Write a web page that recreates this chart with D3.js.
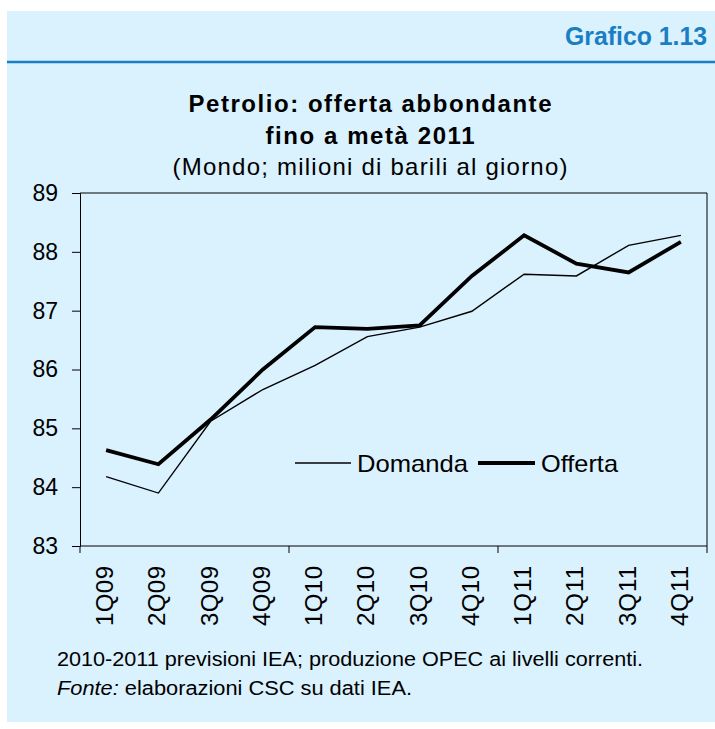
<!DOCTYPE html>
<html>
<head>
<meta charset="utf-8">
<script src="https://cdn.jsdelivr.net/npm/d3@7"></script>
<title>Grafico 1.13</title>
<style>
body {
	margin: 0;
	background: white;
	font-family: "Liberation Sans", Arial, sans-serif;
}
</style>
</head>
<body>
<div id="chart"></div>
<script>

// -- data
var quarters = ["1Q09", "2Q09", "3Q09", "4Q09", "1Q10", "2Q10", "3Q10", "4Q10", "1Q11", "2Q11", "3Q11", "4Q11"];
var domanda = [84.18, 83.90, 85.12, 85.66, 86.07, 86.56, 86.72, 86.99, 87.62, 87.59, 88.11, 88.28];
var offerta = [84.63, 84.39, 85.15, 86.00, 86.72, 86.69, 86.75, 87.59, 88.28, 87.80, 87.65, 88.17];
var yTicks = [83, 84, 85, 86, 87, 88, 89];

var series = [
	{name: "Domanda", values: domanda, width: 1.4},
	{name: "Offerta", values: offerta, width: 3.8},
];

// -- setting
const W = 715, H = 729;
const panelBg = "#daf1fe";
const blue = "#1a7ec2";

var svg = d3.select("#chart")
	.append("svg")
		.attr("width", W)
		.attr("height", H);

// panel
svg.append("rect")
	.attr("x", 7).attr("y", 11)
	.attr("width", W - 7).attr("height", 711)
	.attr("fill", panelBg);

svg.append("text")
	.attr("x", 707).attr("y", 45)
	.attr("text-anchor", "end")
	.style("font-weight", "bold")
	.style("font-size", "25px")
	.attr("textLength", 142)
	.attr("lengthAdjust", "spacingAndGlyphs")
	.attr("fill", blue)
	.text("Grafico 1.13");

svg.append("line")
	.attr("x1", 7).attr("x2", W)
	.attr("y1", 62).attr("y2", 62)
	.attr("stroke", blue)
	.attr("stroke-width", 2.5);

// titles
var titles = [
	{t: "Petrolio: offerta abbondante", y: 112, bold: true, len: 363},
	{t: "fino a metà 2011", y: 144, bold: true, len: 209},
	{t: "(Mondo; milioni di barili al giorno)", y: 175, bold: false, len: 395},
];
svg.selectAll(".title")
	.data(titles)
	.enter()
	.append("text")
	.attr("class", "title")
	.attr("x", 370)
	.attr("y", d => d.y)
	.attr("text-anchor", "middle")
	.attr("textLength", d => d.len)
	.attr("lengthAdjust", "spacing")
	.style("font-size", "24px")
	.style("font-weight", d => d.bold ? "bold" : "normal")
	.text(d => d.t);

// -- plot
var margin = {left: 80, top: 193, right: 707, bottom: 546};

var x = d3.scaleBand()
	.domain(quarters)
	.range([margin.left, margin.right]);

var y = d3.scaleLinear()
	.domain([83, 89])
	.range([margin.bottom, margin.top]);

// frame
svg.append("line")
	.attr("x1", margin.left).attr("x2", margin.right)
	.attr("y1", margin.top).attr("y2", margin.top)
	.attr("stroke", "black");
svg.append("line")
	.attr("x1", margin.right).attr("x2", margin.right)
	.attr("y1", margin.top).attr("y2", margin.bottom)
	.attr("stroke", "black");

// y axis
var yAxis = svg.append("g")
	.attr("transform", "translate(" + margin.left + ",0)")
	.call(d3.axisLeft(y).tickValues(yTicks).tickSize(8).tickPadding(14).tickFormat(d3.format("d")));
yAxis.select(".domain").attr("stroke", "black");
yAxis.selectAll("text")
	.style("font-family", "Liberation Sans, Arial, sans-serif")
	.style("font-size", "23px")
	.attr("fill", "black");

// x axis: ticks at year boundaries
var bounds = [0, 4, 8, 12].map(i => margin.left + i * x.bandwidth());
svg.append("line")
	.attr("x1", margin.left).attr("x2", margin.right)
	.attr("y1", margin.bottom).attr("y2", margin.bottom)
	.attr("stroke", "black");
svg.selectAll(".xtick")
	.data(bounds)
	.enter()
	.append("line")
	.attr("class", "xtick")
	.attr("x1", d => d).attr("x2", d => d)
	.attr("y1", margin.bottom).attr("y2", margin.bottom + 7)
	.attr("stroke", "black");

svg.selectAll(".xlabel")
	.data(quarters)
	.enter()
	.append("text")
	.attr("class", "xlabel")
	.attr("transform", d => "translate(" + (x(d) + x.bandwidth() / 2 + 7) + "," + (margin.bottom + 20) + ") rotate(-90)")
	.attr("text-anchor", "end")
	.attr("textLength", 60)
	.attr("lengthAdjust", "spacing")
	.style("font-size", "24px")
	.text(d => d);

// lines
var line = d3.line()
	.x((d, i) => x(quarters[i]) + x.bandwidth() / 2)
	.y(d => y(d));

svg.selectAll(".series")
	.data(series)
	.enter()
	.append("path")
	.attr("class", "series")
	.attr("fill", "none")
	.attr("stroke", "black")
	.attr("stroke-width", d => d.width)
	.attr("stroke-linejoin", "miter")
	.attr("d", d => line(d.values));

// -- legend
var legend = [
	{name: "Domanda", x1: 295, x2: 351, tx: 357, len: 111, width: 1.4},
	{name: "Offerta", x1: 478, x2: 535, tx: 541, len: 77, width: 3.8},
];
var lg = svg.selectAll(".legend")
	.data(legend)
	.enter()
	.append("g")
	.attr("class", "legend");
lg.append("line")
	.attr("x1", d => d.x1).attr("x2", d => d.x2)
	.attr("y1", 463).attr("y2", 463)
	.attr("stroke", "black")
	.attr("stroke-width", d => d.width);
lg.append("text")
	.attr("x", d => d.tx)
	.attr("y", 472)
	.style("font-size", "24px")
	.attr("textLength", d => d.len)
	.attr("lengthAdjust", "spacingAndGlyphs")
	.text(d => d.name);

// -- notes
svg.append("text")
	.attr("x", 57).attr("y", 666)
	.style("font-size", "20px")
	.attr("textLength", 586)
	.attr("lengthAdjust", "spacingAndGlyphs")
	.text("2010-2011 previsioni IEA; produzione OPEC ai livelli correnti.");

var fonte = svg.append("text")
	.attr("x", 57).attr("y", 695)
	.style("font-size", "20px")
	.attr("textLength", 355)
	.attr("lengthAdjust", "spacingAndGlyphs");
fonte.append("tspan").style("font-style", "italic").text("Fonte:");
fonte.append("tspan").text("  elaborazioni CSC su dati IEA.");

</script>
</body>
</html>
